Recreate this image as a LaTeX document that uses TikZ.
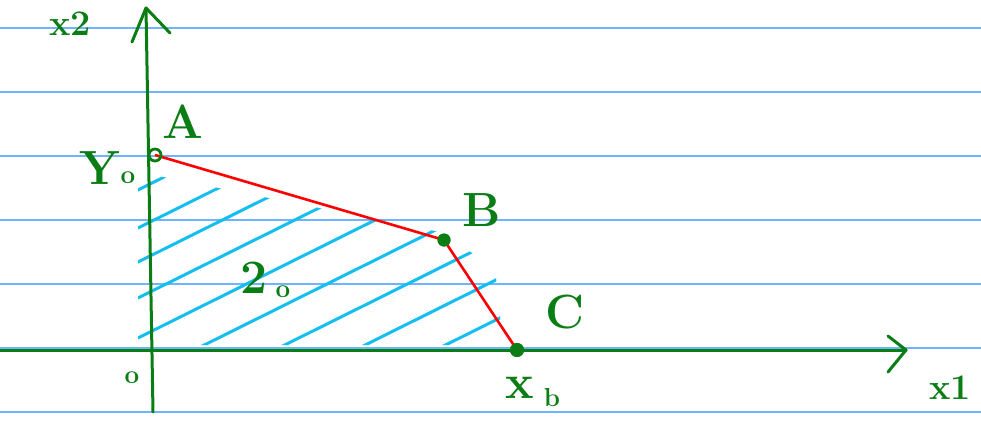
\documentclass[tikz,border=0pt]{standalone}
\usepackage{fontspec}
\begin{document}
\begin{tikzpicture}[x=1pt,y=-1pt,
  rule/.style={draw=rulecol,line width=1.2pt},
  axis/.style={draw=pgreen,line width=3pt,line cap=round,line join=round},
  hatch/.style={draw=hcol,line width=3pt,line cap=round},
  edge/.style={draw=red,line width=2.6pt},
  lab/.style={text=pgreen,font=\fontsize{48}{48}\selectfont\bfseries,inner sep=0pt},
  mlab/.style={text=pgreen,font=\fontsize{36}{36}\selectfont\bfseries,inner sep=0pt},
  slab/.style={text=pgreen,font=\fontsize{26}{26}\selectfont\bfseries,inner sep=0pt}]
\definecolor{rulecol}{RGB}{110,180,255}
\definecolor{pgreen}{RGB}{10,125,20}
\definecolor{hcol}{RGB}{20,190,240}
\useasboundingbox (0,0) rectangle (981,423);
\fill[white] (0,0) rectangle (981,423);
% ruled paper lines
\foreach \yy in {28,92,156,220,284,348,412}
  \draw[rule] (0,\yy) -- (981,\yy);
% hatching
\begin{scope}
\clip (138,172) -- (440,232) -- (495,268) -- (503,345) -- (138,345) -- cycle;
\foreach \yy in {190,228,262,298,338,378,418,458,498}
  \draw[hatch] (138,\yy) -- (540,{\yy-200});
\end{scope}
% axes
\coordinate (ytop) at (146,8);
\coordinate (xend) at (906,350);
\draw[axis] (153,412) -- (ytop);
\draw[axis] (132,42) -- (ytop) -- (170,33);
\draw[axis] (0,350) -- (xend);
\draw[axis] (888,336) -- (xend) -- (888,372);
% points
\node[circle,draw=pgreen,line width=2.5pt,minimum size=12pt,inner sep=0pt] (A) at (155,155) {};
\node[circle,fill=pgreen,minimum size=13pt,inner sep=0pt] (B) at (444,240) {};
\node[circle,fill=pgreen,minimum size=14pt,inner sep=0pt] (C) at (517,350) {};
\draw[edge] (A.center) -- (B.center);
\draw[edge] (B.center) -- (C.center);
\node[circle,draw=pgreen,line width=2.5pt,minimum size=12pt,inner sep=0pt] at (A) {};
\node[circle,fill=pgreen,minimum size=13pt,inner sep=0pt] at (B) {};
\node[circle,fill=pgreen,minimum size=14pt,inner sep=0pt] at (C) {};
% labels
\node[mlab] (lx2) at (70,24) {x2};
\node[lab] (lA) at (183,122) {A};
\node[lab] (ly0) at (100,168) {Y};
\node[slab] (ly0s) at (128,178) {o};
\node[lab] (lB) at (482,210) {B};
\node[lab] (lC) at (565,312) {C};
\node[lab] (lx0) at (520,388) {x};
\node[slab] (lx0s) at (552,398) {b};
\node[mlab] (lx1) at (950,388) {x1};
\node[slab] (l0) at (132,378) {o};
\node[lab] (lR) at (254,278) {2};
\node[slab] (lRs) at (283,292) {o};
\end{tikzpicture}
\end{document}
